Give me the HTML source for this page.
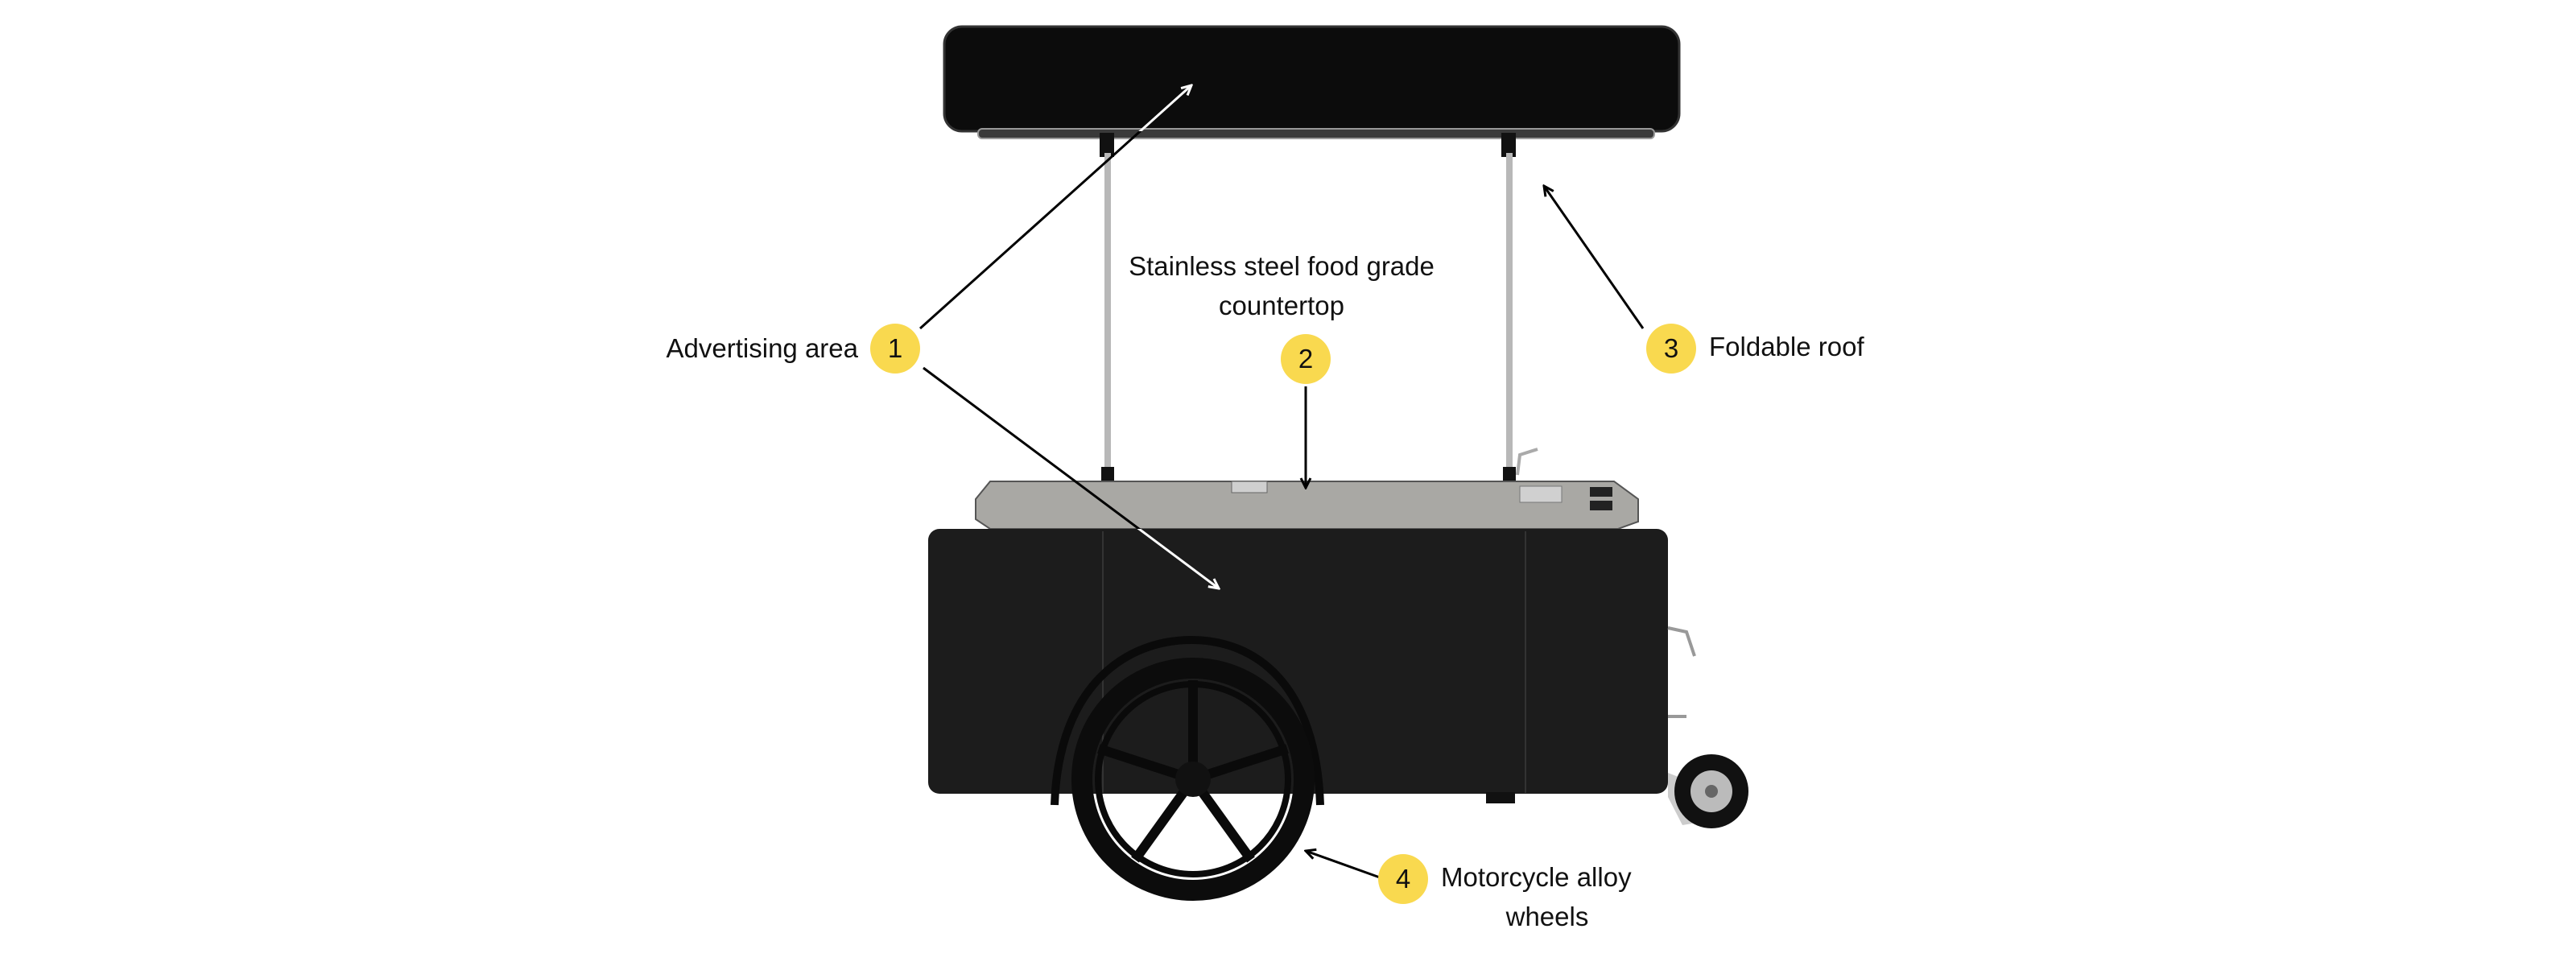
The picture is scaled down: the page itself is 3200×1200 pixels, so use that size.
<!DOCTYPE html>
<html><head><meta charset="utf-8"><style>
html,body{margin:0;padding:0;background:#fff;}
svg{display:block;}
text{font-family:"Liberation Sans",sans-serif;font-size:33px;fill:#111;}
</style></head><body>
<svg width="3200" height="1200" viewBox="0 0 3200 1200" xmlns="http://www.w3.org/2000/svg">
<defs>
<marker id="aw" markerWidth="16" markerHeight="16" refX="14" refY="8" orient="auto" markerUnits="userSpaceOnUse"><path d="M2,2 L14,8 L2,14" fill="none" stroke="#fff" stroke-width="3"/></marker>
<marker id="ak" markerWidth="16" markerHeight="16" refX="14" refY="8" orient="auto" markerUnits="userSpaceOnUse"><path d="M2,2 L14,8 L2,14" fill="none" stroke="#000" stroke-width="3"/></marker>
<clipPath id="roofc"><rect x="1173" y="33" width="913" height="130" rx="22"/></clipPath>
<clipPath id="cabc"><rect x="1153" y="657" width="919" height="329" rx="14"/></clipPath>
</defs>
<!-- roof -->
<rect x="1173" y="33" width="913" height="130" rx="22" fill="#0c0c0c" stroke="#333" stroke-width="3"/>
<rect x="1215" y="160" width="840" height="12" rx="5" fill="#3a3a3a" stroke="#999" stroke-width="2"/>
<rect x="1366" y="165" width="18" height="30" fill="#111"/>
<rect x="1865" y="165" width="18" height="30" fill="#111"/>
<!-- poles -->
<rect x="1372" y="190" width="8" height="420" fill="#b8b8b8"/>
<rect x="1871" y="190" width="8" height="420" fill="#b8b8b8"/>
<rect x="1368" y="580" width="16" height="40" fill="#111"/>
<rect x="1867" y="580" width="16" height="40" fill="#111"/>
<path d="M1885,590 L1888,565 L1910,558" fill="none" stroke="#aaa" stroke-width="4"/>
<!-- countertop -->
<polygon points="1230,598 2005,598 2035,620 2035,648 2010,657 1230,657 1212,645 1212,620" fill="#a9a8a4" stroke="#555" stroke-width="2"/>
<rect x="1530" y="598" width="44" height="14" fill="#cfcfcf" stroke="#666"/>
<rect x="1888" y="604" width="52" height="20" fill="#d0d0d0" stroke="#777"/>
<rect x="1975" y="605" width="28" height="12" fill="#222"/>
<rect x="1975" y="622" width="28" height="12" fill="#222"/>
<!-- cabinet -->
<rect x="1153" y="657" width="919" height="329" rx="14" fill="#1c1c1c"/>
<line x1="1370" y1="660" x2="1370" y2="985" stroke="#333" stroke-width="2"/>
<line x1="1895" y1="660" x2="1895" y2="985" stroke="#333" stroke-width="2"/>
<rect x="1846" y="984" width="36" height="14" fill="#111"/>
<!-- handles -->
<path d="M2072,780 L2095,785 L2105,815" fill="none" stroke="#999" stroke-width="4"/>
<path d="M2072,890 L2095,890" fill="none" stroke="#999" stroke-width="4"/>
<!-- small wheel -->
<path d="M2072,960 L2110,975 L2120,1020 L2090,1025 L2072,990Z" fill="#ccc"/>
<circle cx="2126" cy="983" r="46" fill="#111"/>
<circle cx="2126" cy="983" r="26" fill="#bbb"/>
<circle cx="2126" cy="983" r="8" fill="#666"/>
<!-- fender -->
<path d="M1310,1000 C1315,850 1400,795 1480,795 C1560,795 1635,850 1640,1000" fill="none" stroke="#0a0a0a" stroke-width="10"/>
<!-- big wheel -->
<circle cx="1482" cy="968" r="138" fill="none" stroke="#0c0c0c" stroke-width="26"/>
<circle cx="1482" cy="968" r="118" fill="none" stroke="#0a0a0a" stroke-width="8"/>
<g stroke="#0a0a0a" stroke-width="12" fill="none">
<line x1="1482" y1="968" x2="1482" y2="845"/>
<line x1="1482" y1="968" x2="1599" y2="930"/>
<line x1="1482" y1="968" x2="1554" y2="1068"/>
<line x1="1482" y1="968" x2="1410" y2="1068"/>
<line x1="1482" y1="968" x2="1365" y2="930"/>
</g>
<circle cx="1482" cy="968" r="22" fill="#111"/>
<!-- arrows -->
<line x1="1143" y1="408" x2="1480" y2="106" stroke="#000" stroke-width="3"/>
<g clip-path="url(#roofc)"><line x1="1143" y1="408" x2="1480" y2="106" stroke="#fff" stroke-width="3" marker-end="url(#aw)"/></g>
<line x1="1147" y1="457" x2="1514" y2="731" stroke="#000" stroke-width="3"/>
<g clip-path="url(#cabc)"><line x1="1147" y1="457" x2="1514" y2="731" stroke="#fff" stroke-width="3" marker-end="url(#aw)"/></g>
<line x1="1622" y1="480" x2="1622" y2="606" stroke="#000" stroke-width="3" marker-end="url(#ak)"/>
<line x1="2041" y1="408" x2="1918" y2="231" stroke="#000" stroke-width="3" marker-end="url(#ak)"/>
<line x1="1714" y1="1090" x2="1622" y2="1057" stroke="#000" stroke-width="3" marker-end="url(#ak)"/>
<!-- badges -->
<g fill="#f9d94f">
<circle cx="1112" cy="433" r="31"/>
<circle cx="1622" cy="446" r="31"/>
<circle cx="2076" cy="433" r="31"/>
<circle cx="1743" cy="1092" r="31"/>
</g>
<g text-anchor="middle" style="font-size:30px">
<text x="1112" y="444">1</text>
<text x="1622" y="457">2</text>
<text x="2076" y="444">3</text>
<text x="1743" y="1103">4</text>
</g>
<text x="1066" y="444" text-anchor="end">Advertising area</text>
<text x="1592" y="342" text-anchor="middle">Stainless steel food grade</text>
<text x="1592" y="391" text-anchor="middle">countertop</text>
<text x="2123" y="442">Foldable roof</text>
<text x="1790" y="1101">Motorcycle alloy</text>
<text x="1922" y="1150" text-anchor="middle">wheels</text>
</svg>
</body></html>
